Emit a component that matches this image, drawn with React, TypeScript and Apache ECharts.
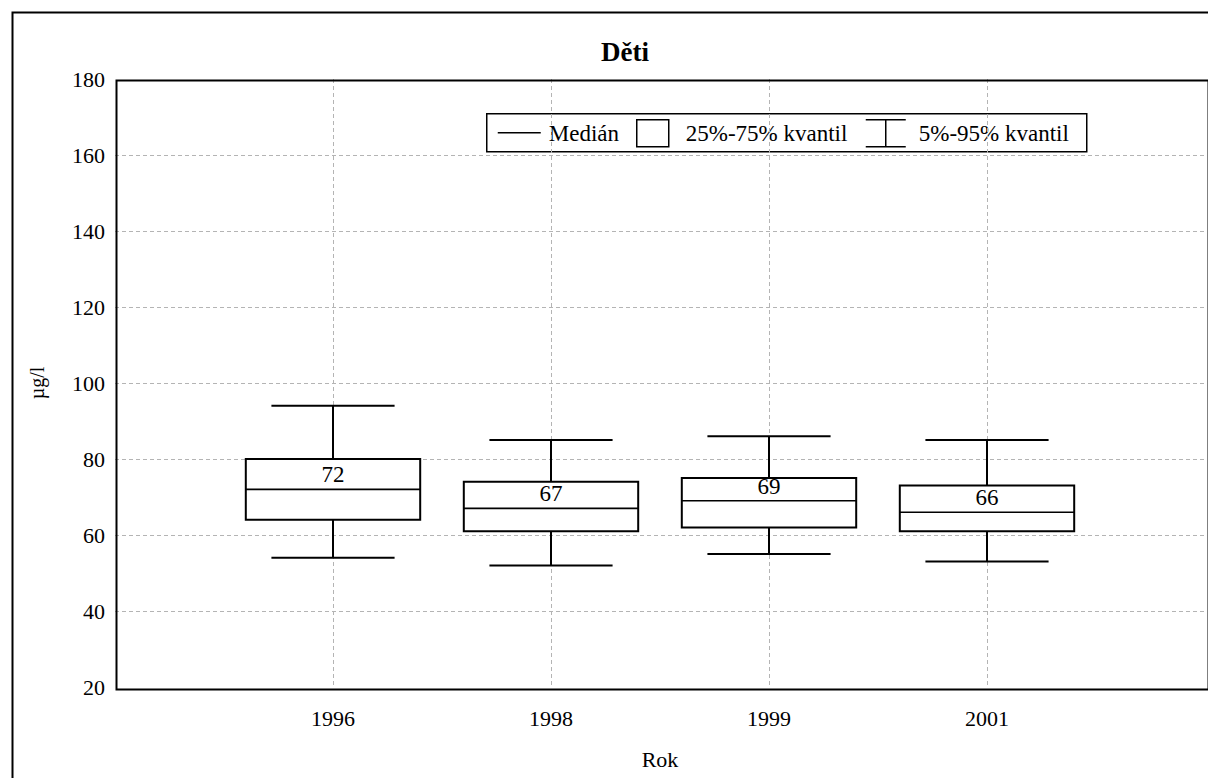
import React, { useEffect, useRef } from "react";
import * as echarts from "echarts";

const years = ["1996", "1998", "1999", "2001"];
const low = [54, 52, 55, 53];
const q1 = [64, 61, 62, 61];
const median = [72, 67, 69, 66];
const q3 = [80, 74, 75, 73];
const high = [94, 85, 86, 85];
const yTicks = [20, 40, 60, 80, 100, 120, 140, 160, 180];

const FONT = "'Liberation Serif', 'Times New Roman', serif";

export default function App() {
  const ref = useRef<HTMLDivElement>(null);
  useEffect(() => {
    const chart = echarts.init(ref.current!, null, { renderer: "svg" });
    const data = years.map((_, i) => [i + 1, low[i], q1[i], median[i], q3[i], high[i]]);
    const option: any = {
      animation: false,
      backgroundColor: "#fff",
      textStyle: { fontFamily: FONT, color: "#000" },
      title: {
        text: "Děti",
        left: 620,
        top: 33,
        textAlign: "center",
        textStyle: { fontFamily: FONT, fontSize: 27, fontWeight: "bold", color: "#000" },
      },
      grid: {
        left: 115,
        top: 79,
        width: 1091,
        height: 608,
        show: false,
      },
      xAxis: {
        type: "value",
        min: 0,
        max: 5,
        interval: 1,
        name: "Rok",
        nameLocation: "middle",
        nameGap: 61,
        nameTextStyle: { fontFamily: FONT, fontSize: 22, color: "#000" },
        axisLine: { show: false },
        axisTick: { show: false },
        axisLabel: {
          fontFamily: FONT,
          fontSize: 22,
          color: "#000",
          margin: 20,
          formatter: (v: number) => (v >= 1 && v <= years.length ? years[v - 1] : ""),
        },
        splitLine: {
          show: true,
          showMinLine: false,
          showMaxLine: false,
          lineStyle: { color: "#b4b4b4", type: [4, 3], width: 1 },
        },
      },
      yAxis: {
        type: "value",
        min: yTicks[0],
        max: yTicks[yTicks.length - 1],
        interval: 20,
        name: "µg/l",
        nameLocation: "middle",
        nameGap: 68,
        nameRotate: 90,
        nameTextStyle: { fontFamily: FONT, fontSize: 20, color: "#000" },
        axisLine: { show: false },
        axisTick: { show: false },
        axisLabel: { fontFamily: FONT, fontSize: 22, color: "#000", margin: 10 },
        splitLine: {
          show: true,
          showMinLine: false,
          showMaxLine: false,
          lineStyle: { color: "#b4b4b4", type: [4, 3], width: 1 },
        },
      },
      series: [
        {
          type: "custom",
          data,
          z: 5,
          renderItem: (params: any, api: any) => {
            const x = api.value(0);
            const pLow = api.coord([x, api.value(1)]);
            const pQ1 = api.coord([x, api.value(2)]);
            const pMed = api.coord([x, api.value(3)]);
            const pQ3 = api.coord([x, api.value(4)]);
            const pHigh = api.coord([x, api.value(5)]);
            const cx = pMed[0];
            const boxHalf = api.size([0.8, 0])[0] / 2;
            const capHalf = api.size([0.565, 0])[0] / 2;
            const ls = { stroke: "#000", lineWidth: 2 };
            return {
              type: "group",
              children: [
                { type: "line", shape: { x1: cx, y1: pHigh[1], x2: cx, y2: pQ3[1] }, style: ls },
                { type: "line", shape: { x1: cx, y1: pQ1[1], x2: cx, y2: pLow[1] }, style: ls },
                { type: "line", shape: { x1: cx - capHalf, y1: pHigh[1], x2: cx + capHalf, y2: pHigh[1] }, style: ls },
                { type: "line", shape: { x1: cx - capHalf, y1: pLow[1], x2: cx + capHalf, y2: pLow[1] }, style: ls },
                {
                  type: "rect",
                  shape: { x: cx - boxHalf, y: pQ3[1], width: boxHalf * 2, height: pQ1[1] - pQ3[1] },
                  style: { fill: "#fff", stroke: "#000", lineWidth: 2 },
                },
                {
                  type: "line",
                  shape: { x1: cx - boxHalf, y1: pMed[1], x2: cx + boxHalf, y2: pMed[1] },
                  style: { stroke: "#000", lineWidth: 1.6 },
                },
                {
                  type: "text",
                  x: cx,
                  y: pMed[1] - 3,
                  style: {
                    text: String(api.value(3)),
                    fontFamily: FONT,
                    fontSize: 23,
                    fill: "#000",
                    align: "center",
                    verticalAlign: "bottom",
                  },
                },
              ],
            };
          },
        },
      ],
      graphic: [
        {
          type: "rect",
          left: 10,
          top: 10,
          shape: { x: 0, y: 0, width: 1220, height: 800 },
          style: { fill: "none", stroke: "#000", lineWidth: 2 },
          z: -10,
          silent: true,
        },
        {
          type: "rect",
          left: 114,
          top: 78,
          shape: { x: 0, y: 0, width: 1092, height: 609 },
          style: { fill: "none", stroke: "#000", lineWidth: 2 },
          z: 50,
          silent: true,
        },
        {
          type: "group",
          left: 486,
          top: 113,
          z: 100,
          children: [
            { type: "rect", shape: { x: 0, y: 0, width: 600, height: 38 }, style: { fill: "#fff", stroke: "#000", lineWidth: 1.5 } },
            { type: "line", shape: { x1: 11, y1: 19, x2: 54, y2: 19 }, style: { stroke: "#000", lineWidth: 1.5 } },
            { type: "text", x: 62, y: 20, style: { text: "Medián", fontFamily: FONT, fontSize: 23, fill: "#000", verticalAlign: "middle" } },
            { type: "rect", shape: { x: 150, y: 6, width: 32, height: 27 }, style: { fill: "#fff", stroke: "#000", lineWidth: 1.5 } },
            { type: "text", x: 199, y: 20, style: { text: "25%-75% kvantil", fontFamily: FONT, fontSize: 23, fill: "#000", verticalAlign: "middle" } },
            { type: "line", shape: { x1: 379, y1: 6, x2: 419, y2: 6 }, style: { stroke: "#000", lineWidth: 1.5 } },
            { type: "line", shape: { x1: 379, y1: 33, x2: 419, y2: 33 }, style: { stroke: "#000", lineWidth: 1.5 } },
            { type: "line", shape: { x1: 399, y1: 6, x2: 399, y2: 33 }, style: { stroke: "#000", lineWidth: 1.5 } },
            { type: "text", x: 432, y: 20, style: { text: "5%-95% kvantil", fontFamily: FONT, fontSize: 23, fill: "#000", verticalAlign: "middle" } },
          ],
        },
      ],
    };
    chart.setOption(option);
    return () => chart.dispose();
  }, []);
  return (
    <div
      ref={ref}
      style={{ position: "fixed", left: 0, top: 0, width: 1208, height: 778, background: "#fff" }}
    />
  );
}
